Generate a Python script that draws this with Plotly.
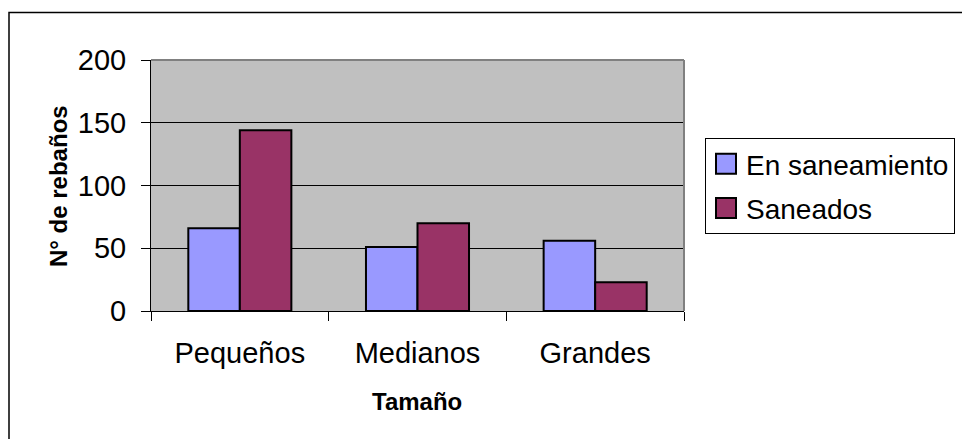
import plotly.graph_objects as go

categories = ["Pequeños", "Medianos", "Grandes"]
series_names = ["En saneamiento", "Saneados"]
en_saneamiento = [66, 51, 56]
saneados = [144, 70, 23]
colors = ["#9999FF", "#993366"]
y_ticks = [0, 50, 100, 150, 200]

FONT = "Arial, 'Liberation Sans', sans-serif"

W, H = 962, 439
L, R, T, B = 151, 684, 60, 311

fig = go.Figure()
for i, (name, vals) in enumerate(zip(series_names, [en_saneamiento, saneados])):
    fig.add_trace(go.Bar(
        x=categories, y=vals, name=name, legendgroup=name,
        marker=dict(color=colors[i], line=dict(color="black", width=2)),
    ))

def px_x(p):
    return (p - L) / (R - L)

def px_y(p):
    return (B - p) / (B - T)

shapes = [
    dict(type="line", xref="paper", yref="paper", x0=0, x1=1, y0=1, y1=1,
         line=dict(color="#808080", width=2), layer="above"),
    dict(type="line", xref="paper", yref="paper", x0=1, x1=1, y0=0, y1=1,
         line=dict(color="#808080", width=2), layer="above"),
    dict(type="rect", xref="paper", yref="paper",
         x0=px_x(9), x1=px_x(990), y0=px_y(460), y1=px_y(12.5),
         line=dict(color="black", width=1.5), fillcolor="rgba(0,0,0,0)"),
]

annotations = [
    dict(text="<b>N° de rebaños</b>", xref="paper", yref="paper",
         x=px_x(58), y=px_y(186), textangle=-90, showarrow=False,
         font=dict(family=FONT, size=24, color="black"),
         xanchor="center", yanchor="middle"),
    dict(text="<b>Tamaño</b>", xref="paper", yref="paper",
         x=px_x(417), y=px_y(401), showarrow=False,
         font=dict(family=FONT, size=24, color="black"),
         xanchor="center", yanchor="middle"),
]

fig.update_layout(
    width=W, height=H,
    margin=dict(l=L, r=W - R, t=T, b=H - B, autoexpand=False),
    paper_bgcolor="white",
    plot_bgcolor="#C0C0C0",
    barmode="group", bargap=0.42, bargroupgap=0,
    font=dict(family=FONT, size=28, color="black"),
    showlegend=True,
    legend=dict(
        x=px_x(705), y=px_y(138), xanchor="left", yanchor="top",
        bgcolor="white", bordercolor="black", borderwidth=1,
        font=dict(family=FONT, size=28, color="black"),
        traceorder="grouped", tracegroupgap=5,
        entrywidth=270, entrywidthmode="pixels",
    ),
    shapes=shapes,
    annotations=annotations,
    xaxis=dict(
        type="category", tickson="boundaries", ticks="outside", ticklen=9,
        tickcolor="black", tickwidth=1, showline=True, linecolor="black",
        linewidth=1, showgrid=False, ticklabelstandoff=16,
        tickfont=dict(family=FONT, size=29, color="black"),
    ),
    yaxis=dict(
        range=[0, 200], tickvals=y_ticks, ticks="outside", ticklen=9,
        tickcolor="black", showline=True, linecolor="black", linewidth=1,
        showgrid=True, gridcolor="black", gridwidth=1, zeroline=False,
        ticklabelstandoff=9,
        tickfont=dict(family=FONT, size=29, color="black"),
    ),
)

post = """
document.querySelectorAll('.legendpoints path').forEach(function(p){
  p.setAttribute('d','M10,10H-10V-10H10Z');
});
"""

fig.write_html("out.html", post_script=post)
